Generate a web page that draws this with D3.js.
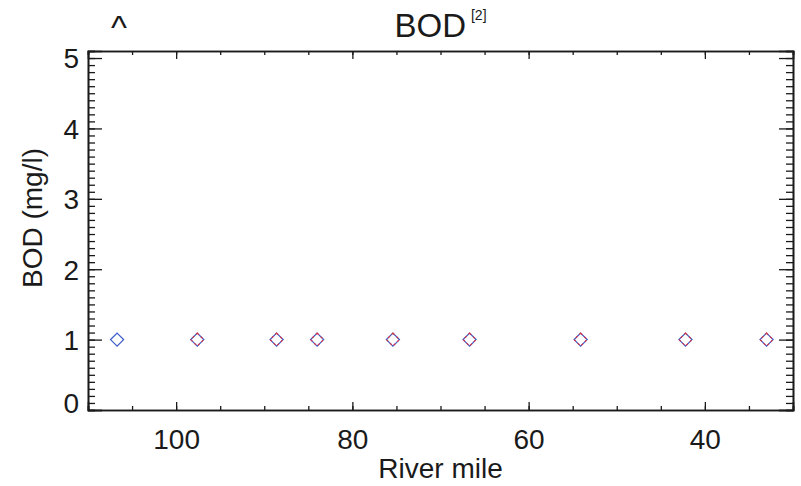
<!DOCTYPE html>
<html>
<head>
<meta charset="utf-8">
<script src="https://cdn.jsdelivr.net/npm/d3@7/dist/d3.min.js"></script>
<style>
  html, body { margin: 0; padding: 0; background: #fff; }
  text { font-family: "Liberation Sans", Arial, Helvetica, sans-serif; fill: #1a1a1a; }
</style>
</head>
<body>
<svg id="chart" width="801" height="486"></svg>
<script>
// ---- data ----
const blueMiles = [106.7, 97.6, 88.6, 84.0, 75.4, 66.7, 54.1, 42.2, 33.0];
const blueBOD   = [1, 1, 1, 1, 1, 1, 1, 1, 1];
const redMiles  = [97.6, 88.6, 84.0, 75.4, 66.7, 54.1, 42.2, 33.0];
const redBOD    = [1, 1, 1, 1, 1, 1, 1, 1];
const xTicks = [100, 80, 60, 40];
const yTicks = [0, 1, 2, 3, 4, 5];
const titleText = "BOD";
const titleSup = "[2]";
const xLabel = "River mile";
const yLabel = "BOD (mg/l)";

// ---- layout ----
const W = 801, H = 486;
const L = 88, R = 793, T = 51, B = 410;
const svg = d3.select("#chart");

const x = d3.scaleLinear().domain([110, 30]).range([L, R]);
const y = d3.scaleLinear().domain([0, 5.1]).range([B, T]);

const axisColor = "#1a1a1a";
const xMinor = d3.range(30, 110.001, 5);
const yMinor = d3.range(0, 5.1001, 0.1).map(v => Math.round(v * 10) / 10);

// bottom axis
const gB = svg.append("g").attr("transform", `translate(0,${B})`)
  .call(d3.axisBottom(x).tickValues(xMinor).tickSize(-4).tickFormat(""));
const gB2 = svg.append("g").attr("transform", `translate(0,${B})`)
  .call(d3.axisBottom(x).tickValues(xTicks).tickSize(-8).tickPadding(20).tickFormat(d3.format("d")));
// top axis
const gT = svg.append("g").attr("transform", `translate(0,${T})`)
  .call(d3.axisTop(x).tickValues(xMinor).tickSize(-4).tickFormat(""));
const gT2 = svg.append("g").attr("transform", `translate(0,${T})`)
  .call(d3.axisTop(x).tickValues(xTicks).tickSize(-8).tickFormat(""));
// left axis
const gL = svg.append("g").attr("transform", `translate(${L},0)`)
  .call(d3.axisLeft(y).tickValues(yMinor).tickSize(-7).tickFormat(""));
const gL2 = svg.append("g").attr("transform", `translate(${L},0)`)
  .call(d3.axisLeft(y).tickValues(yTicks).tickSize(-14).tickPadding(9).tickFormat(d3.format("d")));
// right axis
const gR = svg.append("g").attr("transform", `translate(${R},0)`)
  .call(d3.axisRight(y).tickValues(yMinor).tickSize(-7).tickFormat(""));
const gR2 = svg.append("g").attr("transform", `translate(${R},0)`)
  .call(d3.axisRight(y).tickValues(yTicks).tickSize(-14).tickFormat(""));

[gB, gB2, gT, gT2, gL, gL2, gR, gR2].forEach(g => {
  g.selectAll("path.domain").attr("stroke", axisColor).attr("stroke-width", 1.6);
  g.selectAll(".tick line").attr("stroke", axisColor).attr("stroke-width", 1.3);
});
gB2.selectAll(".tick text").attr("font-size", 28).attr("fill", "#1a1a1a")
  .attr("font-family", "Liberation Sans, Arial, sans-serif")
  .attr("dy", 0).attr("y", 39);
gL2.selectAll(".tick text").attr("font-size", 28).attr("fill", "#1a1a1a")
  .attr("font-family", "Liberation Sans, Arial, sans-serif")
  .attr("dy", "0.35em")
  .attr("transform", d => d === 0 ? "translate(0,-7)" : null);

// ---- titles ----
const title = svg.append("text")
  .attr("x", (L + R) / 2).attr("y", 37)
  .attr("text-anchor", "middle");
title.append("tspan").attr("font-size", 33).text(titleText);
title.append("tspan").attr("font-size", 14).attr("dx", 5).attr("dy", -17).text(titleSup);

svg.append("text").attr("x", 111).attr("y", 39).attr("font-size", 34).text("^");

svg.append("text").attr("x", (L + R) / 2).attr("y", 478)
  .attr("text-anchor", "middle").attr("font-size", 28).text(xLabel);

svg.append("text")
  .attr("transform", `translate(42,218) rotate(-90)`)
  .attr("text-anchor", "middle").attr("font-size", 28).text(yLabel);

// ---- markers ----
const s = 6.5;
const diamond = (cx, cy) => `M${cx},${cy - s}L${cx + s},${cy}L${cx},${cy + s}L${cx - s},${cy}Z`;

svg.append("g").selectAll("path").data(blueMiles.map((m, i) => [m, blueBOD[i]]))
  .join("path")
  .attr("d", d => diamond(x(d[0]), y(d[1])))
  .attr("fill", "none").attr("stroke", "#3f5fc8").attr("stroke-width", 1.3);

svg.append("g").selectAll("path").data(redMiles.map((m, i) => [m, redBOD[i]]))
  .join("path")
  .attr("d", d => diamond(x(d[0]), y(d[1])))
  .attr("fill", "none").attr("stroke", "#e0303c").attr("stroke-width", 1.1)
  .attr("stroke-dasharray", "2.5,2.5");
</script>
</body>
</html>
